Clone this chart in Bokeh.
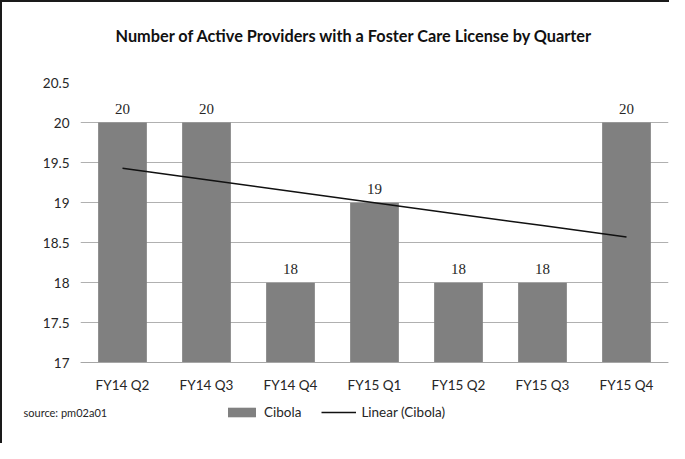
from bokeh.plotting import figure
from bokeh.models import (Range1d, FactorRange, FixedTicker, Label, Legend, LegendItem,
                          ColumnDataSource, LabelSet, Title)
from bokeh.embed import file_html
from bokeh.resources import INLINE
import numpy as np

quarters = ["FY14 Q2", "FY14 Q3", "FY14 Q4", "FY15 Q1", "FY15 Q2", "FY15 Q3", "FY15 Q4"]
cibola = [20, 20, 18, 19, 18, 18, 20]
y_ticks = [17, 17.5, 18, 18.5, 19, 19.5, 20, 20.5]
y_tick_labels = ["17", "17.5", "18", "18.5", "19", "19.5", "20", "20.5"]
title_text = "Number of Active Providers with a Foster Care License by Quarter"
source_text = "source: pm02a01"
series_name = "Cibola"
trend_name = "Linear (Cibola)"

# linear trend (least squares) of the series
xi = np.arange(len(cibola))
slope, intercept = np.polyfit(xi, cibola, 1)
trend = list(slope * xi + intercept)

FONT = "Lato"
TXT = "#262626"
BAR = "#808080"
# the frame runs below the value axis so that the legend row sits inside it
Y_FRAME_BOTTOM = 15.97

p = figure(width=669, height=443, x_range=FactorRange(*quarters),
           y_range=Range1d(Y_FRAME_BOTTOM, y_ticks[-1]),
           output_backend="svg", toolbar_location=None,
           min_border_left=78, min_border_right=3, min_border_top=72, min_border_bottom=0)
p.outline_line_color = None
p.background_fill_color = "white"
p.border_fill_color = "white"
p.styles = {"border-left": "2px solid #1a1a1a", "border-top": "2px solid #1a1a1a"}

p.title = Title(text=title_text, align="left", offset=35, vertical_align="top",
                text_font=FONT, text_font_style="bold", text_font_size="16.3px",
                text_color="#111111", standoff=46)

src = ColumnDataSource(dict(x=quarters, top=cibola, lab=[str(v) for v in cibola]))
bars = p.vbar(x="x", top="top", bottom=y_ticks[0], width=0.58, source=src,
              fill_color=BAR, line_color=None)
tl = p.line(x=quarters, y=trend, line_color="#111111", line_width=1.5)

labels = LabelSet(x="x", y="top", text="lab", source=src, text_align="center",
                  text_baseline="bottom", y_offset=9, text_font_size="15px",
                  text_color=TXT, text_font=FONT)
p.add_layout(labels)

# axes
p.yaxis.ticker = FixedTicker(ticks=y_ticks)
p.yaxis.major_label_overrides = {t: l for t, l in zip(y_ticks, y_tick_labels)}
p.yaxis.axis_line_color = None
p.yaxis.major_tick_line_color = None
p.yaxis.major_tick_out = 0
p.yaxis.minor_tick_line_color = None
p.yaxis.major_label_standoff = 11
p.xaxis.fixed_location = y_ticks[0]
p.xaxis.axis_line_color = "#a6a6a6"
p.xaxis.major_tick_line_color = None
p.xaxis.major_tick_out = 0
p.xaxis.major_label_standoff = 14
for ax in (p.xaxis, p.yaxis):
    ax.major_label_text_font = FONT
    ax.major_label_text_font_size = "13.5px"
    ax.major_label_text_color = TXT
p.xgrid.grid_line_color = None
p.ygrid.grid_line_color = "#b0b0b0"
p.ygrid.ticker = FixedTicker(ticks=y_ticks)

legend = Legend(items=[LegendItem(label=series_name, renderers=[bars]),
                       LegendItem(label=trend_name, renderers=[tl])],
                orientation="horizontal", location=(144, 25),
                label_text_font=FONT, label_text_font_size="13.5px", label_text_color=TXT,
                glyph_width=35, glyph_height=12, spacing=20, label_standoff=5,
                border_line_color=None, background_fill_alpha=0, padding=2, margin=0)
p.add_layout(legend, "center")
# source note, kept in a side panel so that it is not clipped by the frame
# (its screen position is measured from the bottom-left of the top panel)
p.add_layout(Label(x=-57, y=-330, x_units="screen", y_units="screen", text=source_text,
                   text_font=FONT, text_font_size="11px", text_color=TXT,
                   text_align="left", text_baseline="middle"), "above")

open("out.html", "w").write(file_html(p, INLINE))
